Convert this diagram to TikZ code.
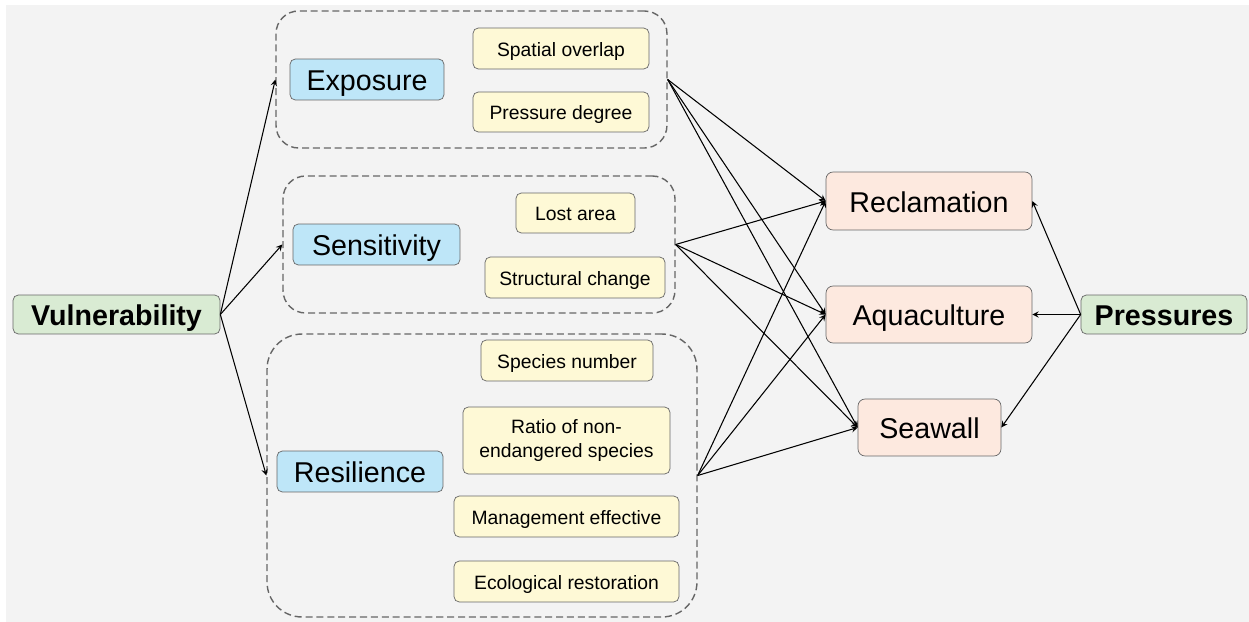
\documentclass[tikz,border=0pt]{standalone}
\usepackage{fontspec}
\setmainfont{Liberation Sans}
\usepackage{tikz}
\usetikzlibrary{arrows}
\definecolor{bggray}{HTML}{F3F3F3}
\definecolor{edgegray}{HTML}{666666}
\definecolor{dimblue}{HTML}{BEE6F8}
\definecolor{factyellow}{HTML}{FEF9D6}
\definecolor{presspeach}{HTML}{FDE9DF}
\definecolor{rootgreen}{HTML}{D9EBD3}
\tikzstyle{root} = [rectangle, rounded corners=3pt, minimum height=0.78cm, inner sep=0pt, text height=12.2pt, text depth=0pt, draw=edgegray, fill=rootgreen, font=\fontsize{16.3}{19}\selectfont\bfseries]
\tikzstyle{dimension} = [rectangle, rounded corners=3pt, minimum height=0.82cm, inner sep=0pt, text height=12.6pt, text depth=0pt, draw=edgegray, fill=dimblue, font=\fontsize{16.3}{19}\selectfont]
\tikzstyle{factorbox} = [rectangle, rounded corners=3pt, minimum height=0.82cm, inner sep=0pt, draw=edgegray, fill=factyellow, text centered, font=\fontsize{11}{14}\selectfont]
\tikzstyle{factor} = [factorbox, text height=8.6pt, text depth=0pt]
\tikzstyle{pressure} = [rectangle, rounded corners=4pt, minimum height=1.14cm, inner sep=0pt, text height=12.6pt, text depth=0pt, draw=edgegray, fill=presspeach, font=\fontsize{16.3}{19}\selectfont]
\tikzstyle{group} = [rectangle, rounded corners=0.45cm, inner sep=0pt, draw=edgegray, dash pattern=on 4pt off 2.2pt, thick]
\tikzstyle{arrow} = [semithick, ->, >=stealth]

\begin{document}
\begin{tikzpicture}[x=0.02cm, y=-0.02cm]

	\fill[white] (0,0) rectangle (1249,622);
	\fill[bggray] (6,5) rectangle (1249,622);

	% dashed groups
	\node (expg) [group, minimum width=7.82cm, minimum height=2.74cm] at (471.5,79.5) {};
	\node (seng) [group, minimum width=7.84cm, minimum height=2.74cm] at (479,244.5) {};
	\node (resg) [group, minimum width=8.6cm, minimum height=5.66cm, rounded corners=0.7cm] at (482,475.5) {};

	\node (vul) [root, minimum width=4.14cm] at (116.5,314.5) {Vulnerability};
	\node (pres) [root, minimum width=3.32cm] at (1164,314.5) {Pressures};

	\node (exp) [dimension, minimum width=3.08cm] at (367,79.5) {Exposure};
	\node (spatial) [factor, minimum width=3.52cm] at (561,48.5) {Spatial overlap};
	\node (pdeg) [factor, minimum width=3.52cm, minimum height=0.8cm] at (561,112) {Pressure degree};

	\node (sen) [dimension, minimum width=3.34cm] at (376.5,244.5) {Sensitivity};
	\node (lost) [factor, minimum width=2.38cm, minimum height=0.8cm] at (575.5,213) {Lost area};
	\node (struct) [factor, minimum width=3.6cm] at (575,277.5) {Structural change};

	\node (res) [dimension, minimum width=3.32cm] at (360,471.5) {Resilience};
	\node (spnum) [factor, minimum width=3.44cm] at (567,360.5) {Species number};
	\node (ratio) [factorbox, minimum width=4.14cm, minimum height=1.34cm, align=center] at (566.5,440.5) {Ratio of non-\\endangered species};
	\node (mgmt) [factor, minimum width=4.5cm] at (566.5,516.5) {Management effective};
	\node (eco) [factor, minimum width=4.5cm] at (566.5,581.5) {Ecological restoration};

	\node (recl) [pressure, minimum width=4.12cm, minimum height=1.16cm] at (929,201) {Reclamation};
	\node (aqua) [pressure, minimum width=4.12cm] at (929,314.5) {Aquaculture};
	\node (sea) [pressure, minimum width=2.86cm] at (929.5,427.5) {Seawall};

	\draw [arrow] (vul.east) -- (expg.west);
	\draw [arrow] (vul.east) -- (seng.west);
	\draw [arrow] (vul.east) -- (resg.west);

	\foreach \g in {expg, seng, resg} {
		\draw [arrow] (\g.east) -- (recl.west);
		\draw [arrow] (\g.east) -- (aqua.west);
		\draw [arrow] (\g.east) -- (sea.west);
	}

	\draw [arrow] (pres.west) -- (recl.east);
	\draw [arrow] (pres.west) -- (aqua.east);
	\draw [arrow] (pres.west) -- (sea.east);

\end{tikzpicture}
\end{document}
